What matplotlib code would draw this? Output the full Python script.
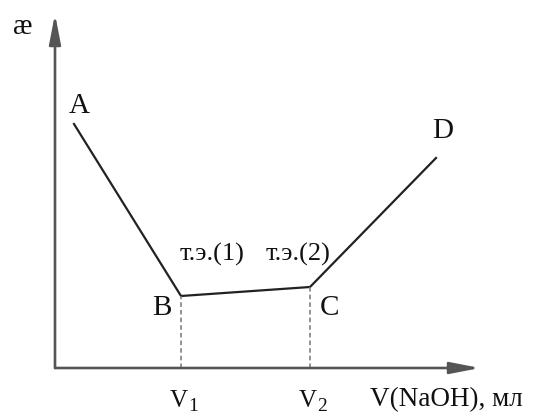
import matplotlib
matplotlib.use("Agg")
import matplotlib.pyplot as plt

# titration curve points A, B, C, D (arbitrary units: V along x, conductivity along y)
point_labels = ["A", "B", "C", "D"]
volume = [1.9, 12.6, 25.5, 38.1]
conductivity = [24.4, 7.2, 8.1, 21.0]

# equivalence points
eq_labels = ["т.э.(1)", "т.э.(2)"]
eq_sub = ["1", "2"]
x_label = "V(NaOH), мл"
y_label = "æ"

plt.rcParams["font.family"] = ["Liberation Serif", "DejaVu Serif"]

fig = plt.figure(figsize=(5.33, 4.15), dpi=100)
ax = fig.add_axes([0, 0, 1, 1])
ax.set_xlim(-5.5, 47.8)
ax.set_ylim(-4.7, 36.8)
ax.axis("off")

axis_col = "#555555"
text_col = "#111111"

# axes with arrows
arrow = dict(arrowstyle="-|>,head_length=1.8,head_width=0.35",
             color=axis_col, lw=1.9, shrinkA=0, shrinkB=0)
ax.annotate("", xy=(42.5, 0), xytext=(0, 0), arrowprops=arrow)
ax.annotate("", xy=(0, 35.4), xytext=(0, 0), arrowprops=arrow)

# curve
ax.plot(volume, conductivity, color="#222222", lw=1.6, solid_joinstyle="miter")

# dashed drop lines at equivalence points
for i in (1, 2):
    ax.plot([volume[i], volume[i]], [0, conductivity[i]], color="#777777",
            lw=1.1, ls=(0, (3, 2)))

# point labels
offsets = [(0.5, 1.8), (-1.9, -1.2), (1.9, -2.1), (0.7, 2.7)]
for lab, vx, cy, (dx, dy) in zip(point_labels, volume, conductivity, offsets):
    ax.text(vx + dx, cy + dy, lab, fontsize=21, color=text_col,
            ha="center", va="center")

# equivalence point labels
ax.text(volume[1] + 3.05, 11.4, eq_labels[0], fontsize=19, color=text_col,
        ha="center", va="center")
ax.text(volume[2] - 1.25, 11.4, eq_labels[1], fontsize=19, color=text_col,
        ha="center", va="center")

# x tick labels V1, V2 with large subscripts
for i, sub in zip((1, 2), eq_sub):
    ax.text(volume[i] + 0.7, -3.9, "V", fontsize=18, color=text_col,
            ha="right", va="baseline")
    ax.text(volume[i] + 0.75, -4.3, sub, fontsize=14, color=text_col,
            ha="left", va="baseline")

ax.text(31.5, -3.8, x_label, fontsize=19.5, color=text_col, ha="left", va="baseline")
ax.text(-3.25, 34.1, y_label, fontsize=21, color=text_col, ha="center", va="center")

fig.savefig("out.png", dpi=100)
